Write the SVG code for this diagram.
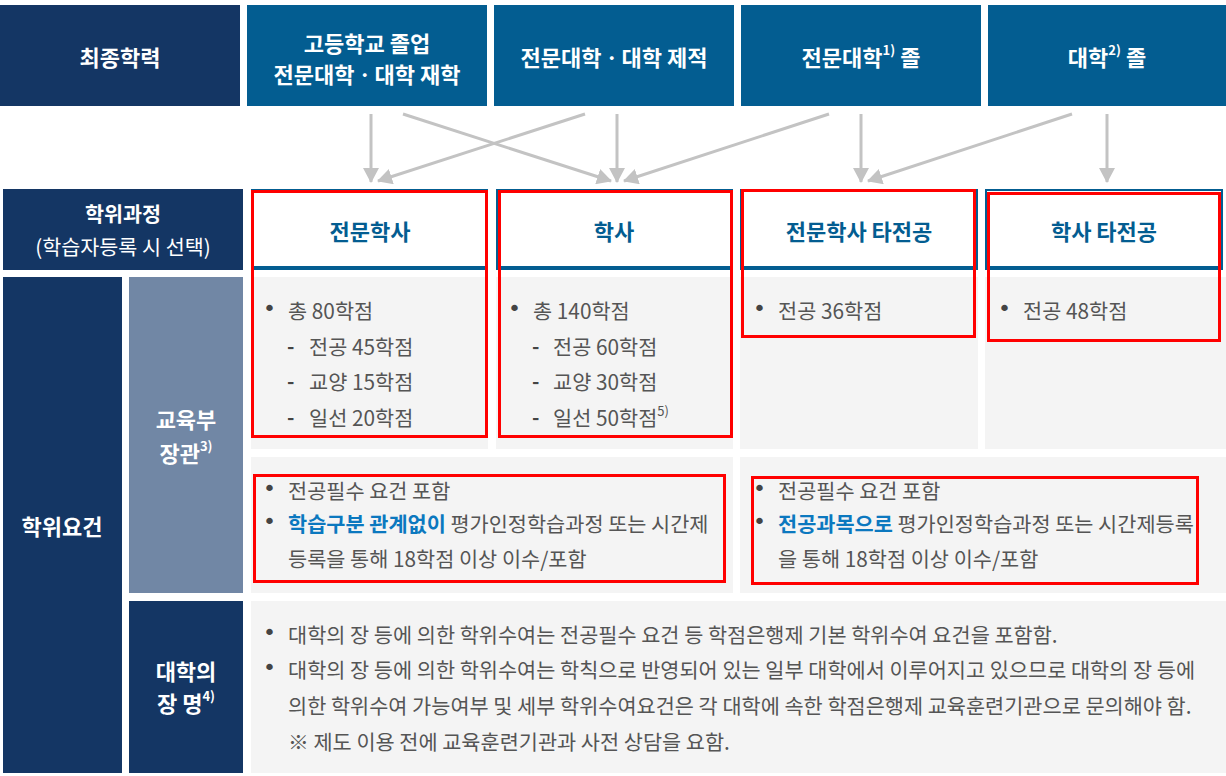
<svg xmlns="http://www.w3.org/2000/svg" width="1226" height="776" viewBox="0 0 1226 776">
<style>
text{font-family:"Noto Sans CJK KR","Noto Sans",sans-serif;}
.navy{fill:#143664;}
.blue{fill:#035d91;}
.slate{fill:#7187a5;}
.gray{fill:#f4f4f4;}
.hd{fill:#ffffff;font-weight:bold;font-size:22px;text-anchor:middle;dominant-baseline:central;}
.hdr{fill:#ffffff;font-size:20.7px;text-anchor:middle;dominant-baseline:central;}
.sup{font-size:13px;}
.ch{fill:#035d91;font-weight:bold;font-size:22px;text-anchor:middle;dominant-baseline:central;}
.chbox{fill:#ffffff;stroke:#035d91;stroke-width:2;}
.chline{stroke:#035d91;stroke-width:4;}
.bt{fill:#555555;font-size:20.8px;dominant-baseline:central;}
.bl{fill:#444444;font-size:22px;dominant-baseline:central;font-family:"DejaVu Sans",sans-serif;}
.dash{fill:#444444;font-size:20px;font-weight:bold;dominant-baseline:central;}
.hl{fill:#0b78bf;font-weight:bold;}
.red{fill:none;stroke:#ff0000;stroke-width:3;}
.arr{stroke:#c3c3c3;stroke-width:3;fill:none;marker-end:url(#ah);}
</style>
<defs>
<marker id="ah" markerUnits="userSpaceOnUse" markerWidth="16" markerHeight="16" refX="14" refY="8" orient="auto">
<path d="M0,0 L15,8 L0,16 Z" fill="#c3c3c3"/>
</marker>
</defs>

<g id="top-row">
<g id="h-final"><rect class="navy" x="0" y="5" width="240" height="101"/><text class="hd" x="120" y="56">최종학력</text></g>
<g id="h-hs"><rect class="blue" x="247" y="5" width="240" height="101"/><text class="hd" x="367" y="42">고등학교 졸업</text><text class="hd" x="367" y="73">전문대학ㆍ대학 재학</text></g>
<g id="h-drop"><rect class="blue" x="494" y="5" width="240" height="101"/><text class="hd" x="614" y="56">전문대학ㆍ대학 제적</text></g>
<g id="h-college"><rect class="blue" x="741" y="5" width="240" height="101"/><text class="hd" x="861" y="56">전문대학<tspan class="sup" dy="-7">1)</tspan><tspan dy="7"> 졸</tspan></text></g>
<g id="h-univ"><rect class="blue" x="988" y="5" width="238" height="101"/><text class="hd" x="1107" y="56">대학<tspan class="sup" dy="-7">2)</tspan><tspan dy="7"> 졸</tspan></text></g>
</g>

<g id="connectors">
<line class="arr" x1="371" y1="114" x2="371" y2="182"/>
<line class="arr" x1="617" y1="114" x2="617" y2="182"/>
<line class="arr" x1="861" y1="114" x2="861" y2="182"/>
<line class="arr" x1="1107" y1="114" x2="1107" y2="182"/>
<line class="arr" x1="403" y1="114" x2="611" y2="181"/>
<line class="arr" x1="585" y1="114" x2="378" y2="181"/>
<line class="arr" x1="829" y1="114" x2="624" y2="181"/>
<line class="arr" x1="1072" y1="114" x2="868" y2="181"/>
</g>

<g id="row-course">
<g id="l-course"><rect class="navy" x="3" y="189" width="240" height="81"/><text class="hd" x="123" y="213" style="font-size:20.7px">학위과정</text><text class="hdr" x="123" y="246">(학습자등록 시 선택)</text></g>
<g id="c-assoc"><rect class="chbox" x="252" y="190" width="235" height="78"/><line class="chline" x1="251" y1="268" x2="488" y2="268"/><text class="ch" x="370" y="230">전문학사</text></g>
<g id="c-bach"><rect class="chbox" x="497" y="190" width="235" height="78"/><line class="chline" x1="496" y1="268" x2="733" y2="268"/><text class="ch" x="614" y="230">학사</text></g>
<g id="c-assoc2"><rect class="chbox" x="741" y="190" width="236" height="78"/><line class="chline" x1="740" y1="268" x2="978" y2="268"/><text class="ch" x="859" y="230">전문학사 타전공</text></g>
<g id="c-bach2"><rect class="chbox" x="986" y="190" width="236" height="78"/><line class="chline" x1="985" y1="268" x2="1223" y2="268"/><text class="ch" x="1104" y="230">학사 타전공</text></g>
</g>

<g id="labels">
<g id="l-req"><rect class="navy" x="3" y="277" width="119" height="496"/><text class="hd" x="62" y="525">학위요건</text></g>
<g id="l-moe"><rect class="slate" x="129" y="277" width="114" height="316"/><text class="hd" x="186" y="418">교육부</text><text class="hd" x="186" y="452">장관<tspan class="sup" dy="-7">3)</tspan></text></g>
<g id="l-pres"><rect class="navy" x="129" y="601" width="114" height="172"/><text class="hd" x="186" y="670">대학의</text><text class="hd" x="186" y="702">장 명<tspan class="sup" dy="-7">4)</tspan></text></g>
</g>

<g id="body-assoc">
<rect class="gray" x="251" y="277" width="237" height="172"/>
<text class="bl" x="263" y="308">•</text><text class="bt" x="288" y="310">총 80학점</text>
<text class="dash" x="287" y="345">-</text><text class="bt" x="309" y="346">전공 45학점</text>
<text class="dash" x="287" y="380">-</text><text class="bt" x="309" y="381">교양 15학점</text>
<text class="dash" x="287" y="416">-</text><text class="bt" x="309" y="417">일선 20학점</text>
</g>
<g id="body-bach">
<rect class="gray" x="496" y="277" width="237" height="172"/>
<text class="bl" x="508" y="308">•</text><text class="bt" x="533" y="310">총 140학점</text>
<text class="dash" x="532" y="345">-</text><text class="bt" x="553" y="346">전공 60학점</text>
<text class="dash" x="532" y="380">-</text><text class="bt" x="553" y="381">교양 30학점</text>
<text class="dash" x="532" y="416">-</text><text class="bt" x="553" y="417">일선 50학점<tspan class="sup" dy="-7">5)</tspan></text>
</g>
<g id="body-assoc2">
<rect class="gray" x="740" y="277" width="238" height="172"/>
<text class="bl" x="753" y="308">•</text><text class="bt" x="778" y="310">전공 36학점</text>
</g>
<g id="body-bach2">
<rect class="gray" x="985" y="277" width="241" height="172"/>
<text class="bl" x="998" y="308">•</text><text class="bt" x="1023" y="310">전공 48학점</text>
</g>

<g id="body-moe-left">
<rect class="gray" x="251" y="457" width="482" height="136"/>
<text class="bl" x="263" y="488">•</text><text class="bt" x="288" y="490">전공필수 요건 포함</text>
<text class="bl" x="263" y="521">•</text><text class="bt" x="288" y="523"><tspan class="hl">학습구분 관계없이</tspan> 평가인정학습과정 또는 시간제</text>
<text class="bt" x="288" y="558">등록을 통해 18학점 이상 이수/포함</text>
</g>
<g id="body-moe-right">
<rect class="gray" x="740" y="457" width="486" height="136"/>
<text class="bl" x="753" y="488">•</text><text class="bt" x="778" y="490">전공필수 요건 포함</text>
<text class="bl" x="753" y="521">•</text><text class="bt" x="778" y="523"><tspan class="hl">전공과목으로</tspan> 평가인정학습과정 또는 시간제등록</text>
<text class="bt" x="778" y="558">을 통해 18학점 이상 이수/포함</text>
</g>

<g id="body-pres">
<rect class="gray" x="251" y="601" width="975" height="172"/>
<text class="bl" x="263" y="632">•</text><text class="bt" x="288" y="634">대학의 장 등에 의한 학위수여는 전공필수 요건 등 학점은행제 기본 학위수여 요건을 포함함.</text>
<text class="bl" x="263" y="667">•</text><text class="bt" x="288" y="669">대학의 장 등에 의한 학위수여는 학칙으로 반영되어 있는 일부 대학에서 이루어지고 있으므로 대학의 장 등에</text>
<text class="bt" x="288" y="705">의한 학위수여 가능여부 및 세부 학위수여요건은 각 대학에 속한 학점은행제 교육훈련기관으로 문의해야 함.</text>
<text class="bt" x="288" y="741">※ 제도 이용 전에 교육훈련기관과 사전 상담을 요함.</text>
</g>

<g id="highlights">
<rect class="red" x="252.5" y="191.5" width="234" height="245"/>
<rect class="red" x="499.5" y="191.5" width="232" height="245"/>
<rect class="red" x="742.5" y="190.5" width="232" height="146"/>
<rect class="red" x="988.5" y="193.5" width="231" height="147"/>
<rect class="red" x="254.5" y="475.5" width="470" height="106"/>
<rect class="red" x="752.5" y="477.5" width="445" height="106"/>
</g>
</svg>
